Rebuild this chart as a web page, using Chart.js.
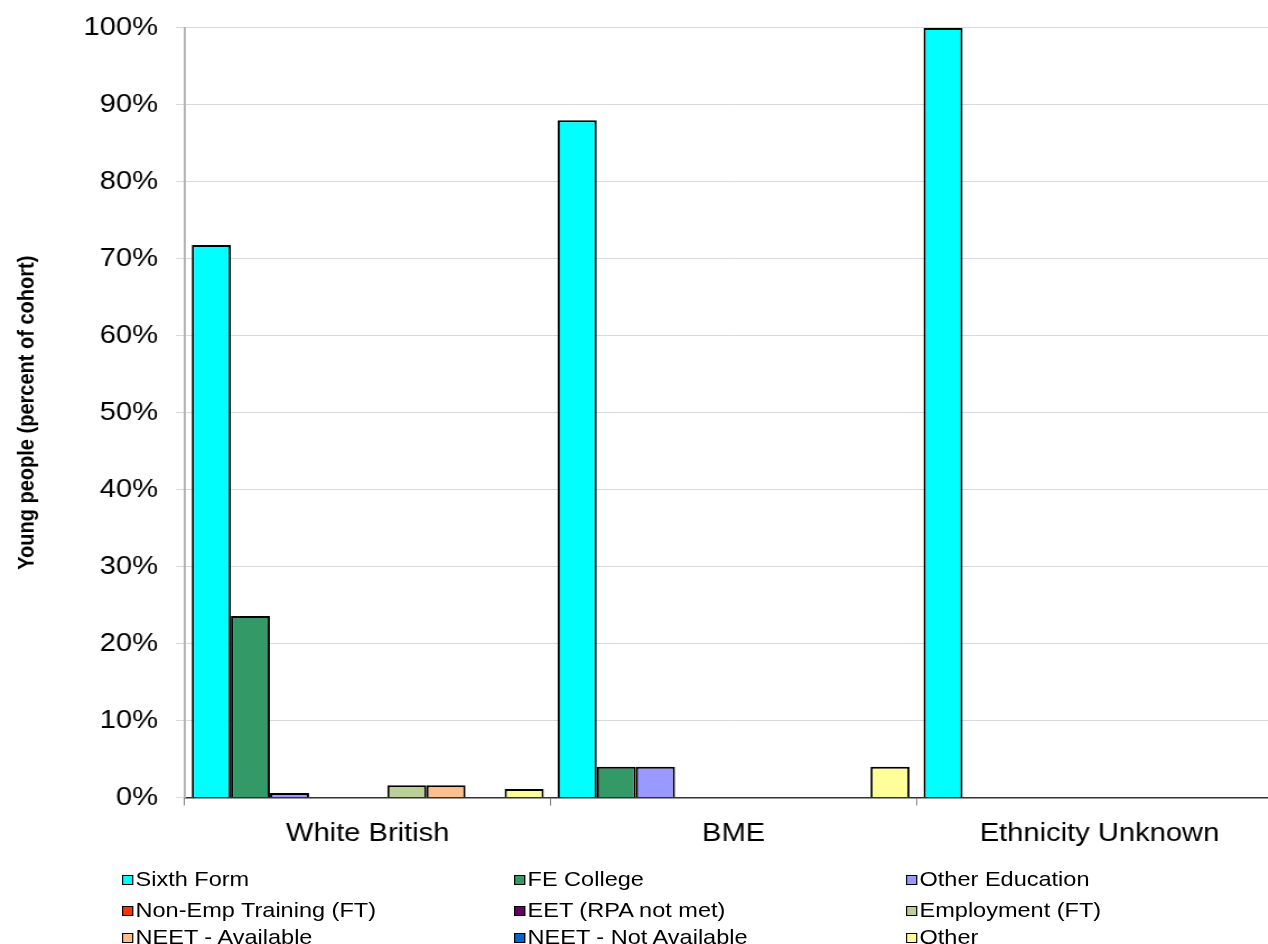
<!DOCTYPE html>
<html lang="en">
<head>
<meta charset="UTF-8">
<title>Destinations by ethnicity</title>
<script src="https://cdn.jsdelivr.net/npm/chart.js"></script>
<style>
  html, body { margin: 0; padding: 0; background: #fff; overflow: hidden; }
  #clip { position: relative; width: 1268px; height: 944px; overflow: hidden; }
  /* the original picture is a little wider than it is tall, so stretch it sideways */
  #wrap { position: absolute; left: 0; top: 0; width: 1154px; height: 944px; transform: scaleX(1.12); transform-origin: 0 0; }
  #chart { position: absolute; left: 0; top: 0; }
  #legend { position: absolute; left: 0; top: 0; font-family: "Liberation Sans", Arial, sans-serif; font-size: 21px; color: #000; }
  .item { position: absolute; white-space: nowrap; line-height: 24px; }
  .box { display: inline-block; width: 8px; height: 8px; border: 1.6px solid #000; margin-right: 2px; vertical-align: 1px; }
</style>
</head>
<body>
<div id="clip">
  <div id="wrap">
    <canvas id="chart" width="1154" height="944"></canvas>
    <div id="legend"></div>
  </div>
</div>
<script>
// categories and series (percent of cohort)
const categories = ["White British", "BME", "Ethnicity Unknown"];
const seriesNames = [
    "Sixth Form", "FE College", "Other Education",
    "Non-Emp Training (FT)", "EET (RPA not met)", "Employment (FT)",
    "NEET - Available", "NEET - Not Available", "Other"
];
const sixthForm = [71.8, 88.0, 100];
const feCollege = [23.6, 4.0, 0];
const otherEducation = [0.6, 4.0, 0];
const nonEmpTraining = [0, 0, 0];
const eetRpaNotMet = [0, 0, 0];
const employmentFT = [1.6, 0, 0];
const neetAvailable = [1.6, 0, 0];
const neetNotAvailable = [0, 0, 0];
const other = [1.1, 4.0, 0];
const yTicks = [0, 10, 20, 30, 40, 50, 60, 70, 80, 90, 100];

const seriesValues = [sixthForm, feCollege, otherEducation, nonEmpTraining, eetRpaNotMet,
    employmentFT, neetAvailable, neetNotAvailable, other];
const seriesColors = ["#00FFFF", "#339966", "#9999FF", "#FF3300", "#660066",
    "#BBCF96", "#FAC090", "#0066CC", "#FFFF99"];

const FONT = "'Liberation Sans', Arial, sans-serif";

const datasets = seriesNames.map((name, i) => ({
    label: name,
    data: seriesValues[i],
    backgroundColor: seriesColors[i],
    borderColor: "#000",
    borderWidth: 2,
    borderSkipped: "bottom",
    categoryPercentage: 0.962,
    barPercentage: 1.0
}));

new Chart(document.getElementById("chart"), {
    type: "bar",
    data: { labels: categories, datasets: datasets },
    options: {
        responsive: false,
        animation: false,
        devicePixelRatio: 1,
        layout: { padding: { top: 20, right: 9, bottom: 0, left: 0 } },
        plugins: { legend: { display: false }, tooltip: { enabled: false } },
        scales: {
            x: {
                grid: { drawOnChartArea: false, tickLength: 8, color: "#808080", lineWidth: 1 },
                border: { color: "#333", width: 1.5 },
                ticks: { color: "#000", font: { family: FONT, size: 26 }, padding: 13 },
                afterFit: s => { s.height = 944 - 797.5; }
            },
            y: {
                min: 0,
                max: 100,
                afterBuildTicks: s => { s.ticks = yTicks.map(v => ({ value: v })); },
                grid: { color: "#d9d9d9", lineWidth: 1, tickLength: 8 },
                border: { color: "#b4b4b4", width: 2 },
                ticks: {
                    color: "#000",
                    font: { family: FONT, size: 26, lineHeight: 0.92 },
                    padding: 16,
                    callback: v => v + "%"
                },
                title: {
                    display: true,
                    text: "Young people (percent of cohort)",
                    color: "#000",
                    font: { family: FONT, size: 20, weight: "bold" },
                    padding: { top: 12, bottom: 0 }
                },
                afterFit: s => { s.width = 165; }
            }
        }
    }
});

// legend in three columns under the chart
const legend = document.getElementById("legend");
const colX = [109, 459, 809];
const rowY = [867, 898, 925];
seriesNames.forEach((name, i) => {
    const el = document.createElement("div");
    el.className = "item";
    el.style.left = colX[i % 3] + "px";
    el.style.top = rowY[Math.floor(i / 3)] + "px";
    el.innerHTML = '<span class="box" style="background:' + seriesColors[i] + '"></span>' + name;
    legend.appendChild(el);
});
</script>
</body>
</html>
